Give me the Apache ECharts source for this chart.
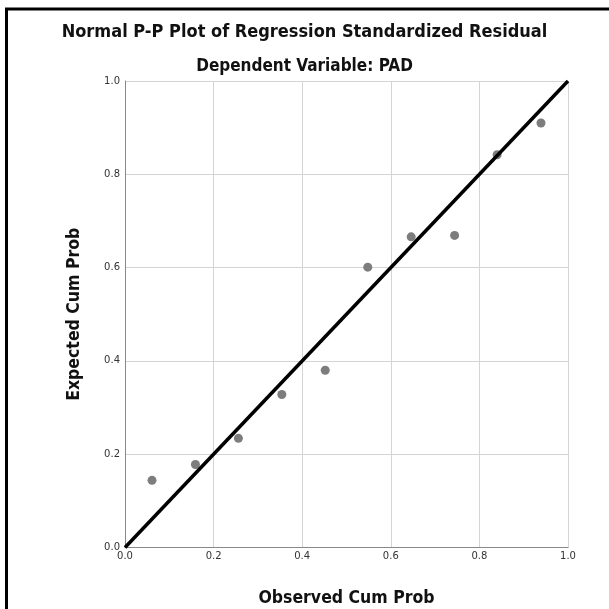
<!DOCTYPE html>
<html>
<head>
<meta charset="utf-8">
<script src="https://cdn.jsdelivr.net/npm/echarts@6/dist/echarts.min.js"></script>
<style>
  html, body { margin: 0; padding: 0; background: #fff; }
  #main { width: 609px; height: 609px; }
</style>
</head>
<body>
<div id="main"></div>
<script>
// observed vs expected cumulative probabilities
var observed = [0.061, 0.159, 0.256, 0.354, 0.452, 0.548, 0.646, 0.744, 0.840, 0.939];
var expected = [0.144, 0.178, 0.234, 0.328, 0.380, 0.601, 0.666, 0.669, 0.842, 0.910];
var refLine = [[0, 0], [1, 1]];
var tickLabels = ['0.0', '0.2', '0.4', '0.6', '0.8', '1.0'];

var points = observed.map(function (x, i) { return [x, expected[i]]; });

var myChart = echarts.init(document.getElementById('main'));

var titleFont = '"DejaVu Sans Condensed", "DejaVu Sans", sans-serif';

var axisCommon = {
    type: 'value',
    min: 0,
    max: 1,
    interval: 0.2,
    axisLine: { show: true, lineStyle: { color: '#888', width: 1 } },
    axisTick: { show: false },
    splitLine: { show: true, lineStyle: { color: '#d4d4d4', width: 1 } },
    axisLabel: {
        color: '#333',
        fontSize: 10,
        fontFamily: '"DejaVu Sans", sans-serif',
        formatter: function (v) { return tickLabels[Math.round(v * 5)]; }
    },
    nameLocation: 'middle',
    nameTextStyle: {
        fontSize: 17.5,
        fontWeight: 'bold',
        color: '#111',
        fontFamily: titleFont
    }
};

var option = {
    animation: false,
    title: [
        {
            text: 'Normal P-P Plot of Regression Standardized Residual',
            left: 'center',
            top: 18,
            textStyle: { fontSize: 18, fontWeight: 'bold', color: '#111', fontFamily: titleFont }
        },
        {
            text: 'Dependent Variable: PAD',
            left: 'center',
            top: 53,
            textStyle: { fontSize: 17, fontWeight: 'bold', color: '#111', fontFamily: titleFont }
        }
    ],
    grid: { left: 125, right: 41, top: 81, bottom: 61.5, containLabel: false, outerBoundsMode: 'none' },
    xAxis: Object.assign({}, axisCommon, {
        name: 'Observed Cum Prob',
        nameGap: 42,
        axisLabel: Object.assign({}, axisCommon.axisLabel, { margin: 4 })
    }),
    yAxis: Object.assign({}, axisCommon, {
        name: 'Expected Cum Prob',
        nameGap: 42,
        axisLabel: Object.assign({}, axisCommon.axisLabel, { margin: 5 })
    }),
    graphic: [
        { type: 'line', shape: { x1: 5, y1: 9, x2: 609, y2: 9 }, style: { stroke: '#000', lineWidth: 3 } },
        { type: 'line', shape: { x1: 6.5, y1: 8, x2: 6.5, y2: 609 }, style: { stroke: '#000', lineWidth: 3 } }
    ],
    series: [
        {
            type: 'scatter',
            data: points,
            symbolSize: 9,
            itemStyle: { color: '#7d7d7d', opacity: 1 },
            z: 2
        },
        {
            type: 'line',
            data: refLine,
            symbol: 'none',
            lineStyle: { color: '#000', width: 3.5 },
            z: 3
        }
    ]
};

myChart.setOption(option);
window.onresize = myChart.resize;
</script>
</body>
</html>
